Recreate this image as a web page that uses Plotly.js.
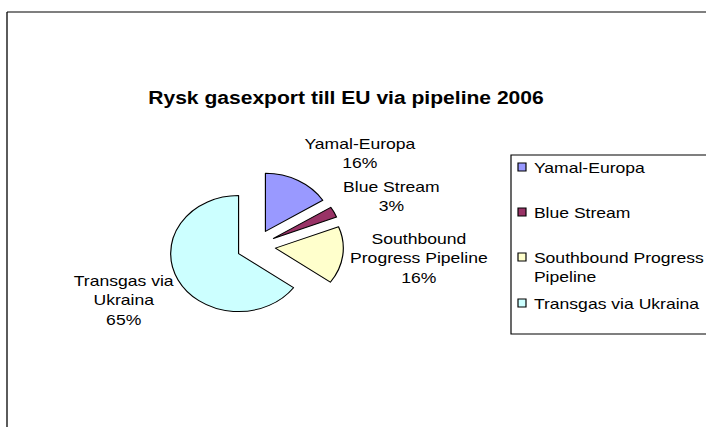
<!DOCTYPE html>
<html><head><meta charset="utf-8">
<script src="https://cdn.plot.ly/plotly-3.0.1.min.js"></script>
<style>
html,body{margin:0;padding:0;background:#fff;overflow:hidden}
#wrap{width:706px;height:427px;overflow:hidden}
#chart{width:603px;height:427px;transform:scaleX(1.17081);transform-origin:0 0}
</style>
</head><body><div id="wrap"><div id="chart"></div></div>
<script>
const chartTitle = "Rysk gasexport till EU via pipeline 2006";
const labels = ["Yamal-Europa", "Blue Stream", "Southbound Progress Pipeline", "Transgas via Ukraina"];
const values = [16, 3, 16, 65];
const colors = ["#9999FF", "#993366", "#FFFFCC", "#CCFFFF"];
const sliceLabelLines = ["Yamal-Europa", "Blue Stream", "Southbound<br>Progress Pipeline", "Transgas via<br>Ukraina"];
const legendLines = ["Yamal-Europa", "Blue Stream", "Southbound Progress<br>Pipeline", "Transgas via Ukraina"];

// The Excel original is stretched horizontally; plot at W0 and scale by S to 706px.
const WF = 706, H = 427, W0 = 603, S = WF / W0;
const px = x => x / WF, py = y => 1 - y / H;   // final-pixel -> paper fraction
const FONT = "Liberation Sans, Arial, sans-serif";
const total = values.reduce((a, b) => a + b, 0);
const pct = values.map(v => Math.round(v / total * 100) + "%");

// pie geometry (final pixels for centre, plot pixels for radius)
const cxF = 256, cyF = 246, r = 58, pullFrac = 0.288;
const half = r * (1 + pullFrac);             // plot pixels
const halfX = half / W0, halfY = half / H;

const trace = {
  type: "pie",
  labels: labels,
  values: values,
  sort: false,
  direction: "clockwise",
  rotation: 0,
  pull: values.map(() => pullFrac),
  marker: {colors: colors, line: {color: "#000000", width: 1}},
  textinfo: "none",
  hoverinfo: "label+percent",
  showlegend: false,
  domain: {x: [px(cxF) - halfX, px(cxF) + halfX], y: [py(cyF) - halfY, py(cyF) + halfY]}
};

const sliceLabelPos = [[360, 153.5], [392, 196], [419, 258], [124, 299.5]];
const annotations = sliceLabelLines.map((t, i) => ({
  xref: "paper", yref: "paper",
  x: px(sliceLabelPos[i][0]), y: py(sliceLabelPos[i][1]),
  xanchor: "center", yanchor: "middle", align: "center",
  showarrow: false,
  text: t + "<br>" + pct[i],
  font: {family: FONT, size: 15, color: "#000"}
}));

// legend (Excel style)
const legendY = [167, 212, 257, 303];
const legendTextY = [167, 212, 267, 303];
const shapes = [
  {type: "line", xref: "paper", yref: "paper", x0: px(7), x1: px(720), y0: py(12), y1: py(12), line: {color: "#000", width: 1.2}},
  {type: "line", xref: "paper", yref: "paper", x0: px(7), x1: px(7), y0: py(12), y1: py(440), line: {color: "#000", width: 1.1}},
  {type: "rect", xref: "paper", yref: "paper", x0: px(511), x1: px(740), y0: py(155), y1: py(334), line: {color: "#000", width: 1}, fillcolor: "rgba(0,0,0,0)"}
];
legendY.forEach((y, i) => {
  shapes.push({type: "rect", xref: "paper", yref: "paper", x0: px(518), x1: px(526), y0: py(y + 4), y1: py(y - 4),
    line: {color: "#000", width: 1}, fillcolor: colors[i]});
  annotations.push({
    xref: "paper", yref: "paper", x: px(532), y: py(legendTextY[i]),
    xanchor: "left", yanchor: "middle", align: "left", showarrow: false,
    text: legendLines[i], font: {family: FONT, size: 15, color: "#000"}
  });
});

const layout = {
  width: W0, height: H,
  margin: {l: 0, r: 0, t: 0, b: 0},
  paper_bgcolor: "#ffffff",
  title: {text: "<b>" + chartTitle + "</b>", x: px(346), y: py(98), xanchor: "center", yanchor: "middle",
    font: {family: FONT, size: 18, color: "#000"}},
  showlegend: false,
  annotations: annotations,
  shapes: shapes
};

Plotly.newPlot("chart", [trace], layout, {displayModeBar: false, staticPlot: true});
</script>
</body></html>
